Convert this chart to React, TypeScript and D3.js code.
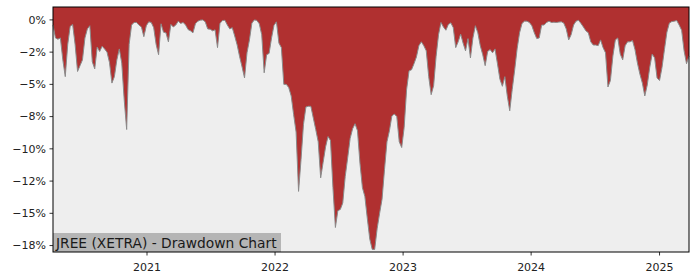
import React from "react";
import * as d3 from "d3";

const title = "JREE (XETRA) - Drawdown Chart";
const startDate = "2020-04-08"; // first weekly observation
const stepDays = 7;
// weekly drawdown in percent
const drawdown: number[] = [
  -0.4, -1.4, -1.5, -1.4, -3.1, -4.4, -1.9, -0.5, -0.35, -1.9,
  -4.0, -3.55, -3.1, -1.4, -0.7, -0.45, -3.25, -3.8, -2.1, -2.45,
  -2.05, -2.25, -2.5, -3.3, -4.9, -4.4, -3.1, -2.25, -3.35, -6.2,
  -8.5, -1.9, -0.4, -0.2, -0.2, -0.4, -0.55, -1.3, -0.45, -0.15,
  -0.2, -0.6, -1.9, -2.7, -0.3, -0.95, -1.0, -1.7, -0.35, -0.55,
  -0.4, -0.1, -0.27, -0.2, -0.4, -0.75, -0.85, -1.0, -0.3, -0.1,
  -0.02, 0, -0.15, -0.7, -0.72, -0.85, -0.77, -2.15, -0.27, -0.05,
  -0.03, -0.4, -0.7, -0.6, -1.25, -1.95, -2.85, -3.65, -4.5, -2.55,
  -1.55, -0.25, 0, -0.04, -0.3, -1.15, -4.1, -2.7, -2.6, -1.4,
  -0.42, -0.15, -1.8, -2.15, -5.0, -5.0, -5.25, -5.9, -7.35, -8.7,
  -13.3, -10.85, -8.1, -6.75, -6.7, -6.7, -7.6, -8.5, -9.45, -12.25,
  -11.05, -9.85, -9.05, -9.35, -13.0, -16.1, -14.8, -14.7, -14.2, -12.15,
  -10.7, -9.2, -8.45, -8.05, -8.6, -11.1, -13.0, -13.7, -15.4, -17.0,
  -17.8, -17.8, -16.2, -15.0, -13.9, -11.6, -9.45, -8.6, -7.45, -7.3,
  -7.5, -9.45, -9.9, -8.35, -5.4, -3.95, -3.87, -3.4, -2.87, -2.0,
  -1.7, -2.0, -2.4, -4.4, -5.8, -5.1, -2.85, -1.15, -0.2, -0.55,
  -0.8, -0.35, -0.23, -0.6, -2.15, -1.7, -1.1, -1.8, -2.4, -1.45,
  -2.95, -1.4, -0.45, -1.0, -2.0, -2.7, -3.55, -2.45, -2.3, -2.55,
  -2.25, -3.4, -4.6, -5.15, -4.4, -5.9, -7.05, -5.4, -3.9, -2.25,
  -1.0, -0.27, -0.1, -0.1, -0.2, -0.45, -1.0, -1.45, -1.4, -0.4,
  -0.4, -0.2, -0.1, -0.2, -0.18, -0.2, -0.17, -0.15, -0.25, -0.7,
  -1.55, -1.15, -0.4, -0.1, -0.03, -0.27, -0.55, -0.85, -1.0, -1.7,
  -1.95, -1.95, -2.0, -1.55, -2.15, -2.55, -5.2, -4.7, -2.8, -1.55,
  -1.4, -2.65, -3.1, -2.0, -1.7, -1.7, -1.6, -2.3, -3.35, -4.2,
  -4.9, -5.9, -5.05, -3.7, -2.65, -2.95, -4.5, -4.7, -3.7, -2.3,
  -0.95, -0.25, -0.13, -0.1, -0.05, -0.4, -0.8, -2.4, -3.4, -2.8,
];
const yTicks = [0, -2.5, -5, -7.5, -10, -12.5, -15, -17.5];
const yTickLabels = ["0%", "−2%", "−5%", "−8%", "−10%", "−12%", "−15%", "−18%"];
const xTickYears = [2021, 2022, 2023, 2024, 2025];
const yDomain: [number, number] = [-18.0, 1.0];

const W = 700, H = 280;
const M = { left: 53, right: 11, top: 7, bottom: 28 };

export default function App() {
  const parse = d3.timeParse("%Y-%m-%d");
  const t0 = parse(startDate) as Date;
  const data = drawdown.map((v, i) => ({ date: d3.timeDay.offset(t0, i * stepDays), v }));
  const x = d3
    .scaleTime()
    .domain([data[0].date, data[data.length - 1].date])
    .range([M.left, W - M.right]);
  const y = d3.scaleLinear().domain(yDomain).range([H - M.bottom, M.top]);

  const area = d3
    .area<{ date: Date; v: number }>()
    .x((d) => x(d.date))
    .y0(y(yDomain[1]))
    .y1((d) => y(d.v));
  const line = d3
    .line<{ date: Date; v: number }>()
    .x((d) => x(d.date))
    .y((d) => y(d.v));

  const x0 = M.left, x1 = W - M.right, yTop = M.top, yBot = H - M.bottom;
  const font = "DejaVu Sans, sans-serif";

  return (
    <svg width={W} height={H} style={{ position: "absolute", left: 0, top: 0 }}>
      <rect x={0} y={0} width={W} height={H} fill="#ffffff" />
      <rect x={x0} y={yTop} width={x1 - x0} height={yBot - yTop} fill="#eeeeee" />
      <path d={area(data) || ""} fill="#b03030" />
      <path d={line(data) || ""} fill="none" stroke="#8a8a8a" strokeWidth={1} />
      {/* label */}
      <rect x={x0} y={233} width={228} height={yBot - 233} fill="#b5b5b5" />
      <text x={x0 + 3} y={247.5} fontFamily={font} fontSize={13.8} fill="#1a1a1a">
        {title}
      </text>
      {/* spines */}
      <rect x={x0} y={yTop} width={x1 - x0} height={yBot - yTop} fill="none" stroke="#000" strokeWidth={1} />
      {/* y ticks */}
      {yTicks.map((t, i) => (
        <g key={"y" + i}>
          <line x1={x0 - 3.5} x2={x0} y1={y(t)} y2={y(t)} stroke="#000" strokeWidth={0.8} />
          <text
            x={x0 - 7}
            y={y(t)}
            dy="0.35em"
            textAnchor="end"
            fontFamily={font}
            fontSize={11}
            fill="#222"
          >
            {yTickLabels[i]}
          </text>
        </g>
      ))}
      {/* x ticks */}
      {xTickYears.map((yr) => {
        const px = x(new Date(yr, 0, 1));
        return (
          <g key={"x" + yr}>
            <line x1={px} x2={px} y1={yBot} y2={yBot + 3.5} stroke="#000" strokeWidth={0.8} />
            <text x={px} y={yBot + 19} textAnchor="middle" fontFamily={font} fontSize={11} fill="#222">
              {yr}
            </text>
          </g>
        );
      })}
    </svg>
  );
}
